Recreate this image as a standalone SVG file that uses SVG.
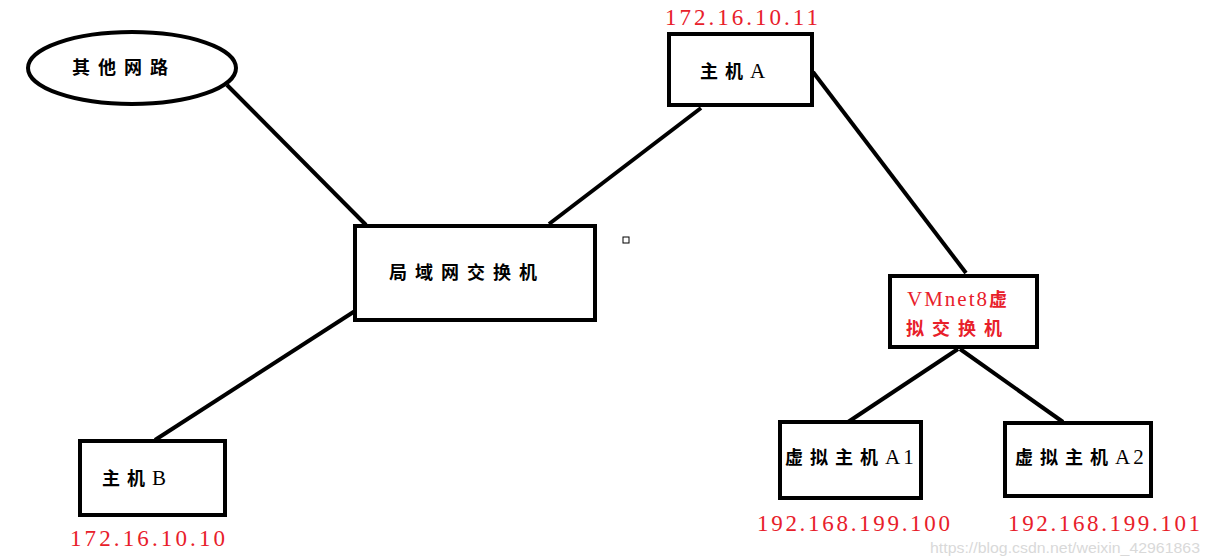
<svg xmlns="http://www.w3.org/2000/svg" width="1210" height="560" viewBox="0 0 1210 560">
<style>
.box{fill:#fff;stroke:#000;stroke-width:4}
.lbl{font-family:"Liberation Serif","Noto Sans CJK SC",serif;fill:#000}
.cjk{font-family:"Noto Sans CJK SC",sans-serif;font-size:18px;font-weight:bold;letter-spacing:8px}
.lat{font-family:"Liberation Serif",serif;font-size:21px;font-weight:normal;letter-spacing:1px}
.red{fill:#e8202a}
.ip{font-family:"Liberation Serif","Noto Sans CJK SC",serif;font-size:23px;fill:#e8202a}
.conn line{stroke:#000;stroke-width:4}
.wm{font-family:"Liberation Sans",sans-serif;font-size:15px;fill:#d9d9d9}
</style>
<rect width="1210" height="560" fill="#fff"/>
<g class="conn">
<line x1="227" y1="85" x2="366" y2="225"/>
<line x1="549" y1="224" x2="701" y2="108"/>
<line x1="813" y1="72" x2="966" y2="273"/>
<line x1="355" y1="311" x2="155" y2="440"/>
<line x1="958" y1="349" x2="845" y2="424"/>
<line x1="960" y1="349" x2="1063" y2="422"/>
</g>
<g id="other-net">
<ellipse class="box" cx="132" cy="68" rx="104" ry="36"/>
<text class="lbl" x="72" y="74"><tspan class="cjk">其他网路</tspan></text>
</g>
<g id="host-a">
<rect class="box" x="669" y="34" width="143" height="71"/>
<text class="lbl" x="700" y="78"><tspan class="cjk" style="letter-spacing:7px">主机</tspan><tspan class="lat">A</tspan></text>
<text class="ip" x="665" y="25" textLength="153" lengthAdjust="spacing">172.16.10.11</text>
</g>
<g id="lan-switch">
<rect class="box" x="355" y="226" width="240" height="94"/>
<text class="lbl" x="389" y="279"><tspan class="cjk">局域网交换机</tspan></text>
</g>
<g id="marker-square">
<rect x="623" y="237" width="6" height="6" fill="#fff" stroke="#000" stroke-width="1"/>
</g>
<g id="vmnet8">
<rect class="box" x="890" y="276" width="147" height="71"/>
<text class="lbl red" x="907" y="306"><tspan class="lat" style="letter-spacing:2px">VMnet8</tspan><tspan class="cjk">虚</tspan></text>
<text class="lbl red" x="906" y="335"><tspan class="cjk">拟交换机</tspan></text>
</g>
<g id="vm-a1">
<rect class="box" x="780" y="422" width="141" height="76"/>
<text class="lbl" x="785" y="464"><tspan class="cjk" style="letter-spacing:7px">虚拟主机</tspan><tspan class="lat" style="letter-spacing:3px">A1</tspan></text>
<text class="ip" x="757" y="531" textLength="193" lengthAdjust="spacing">192.168.199.100</text>
</g>
<g id="vm-a2">
<rect class="box" x="1005" y="423" width="146" height="73"/>
<text class="lbl" x="1015" y="464"><tspan class="cjk" style="letter-spacing:7px">虚拟主机</tspan><tspan class="lat" style="letter-spacing:3px">A2</tspan></text>
<text class="ip" x="1008" y="531" textLength="192" lengthAdjust="spacing">192.168.199.101</text>
</g>
<g id="host-b">
<rect class="box" x="80" y="441" width="145" height="74"/>
<text class="lbl" x="102" y="485"><tspan class="cjk" style="letter-spacing:7px">主机</tspan><tspan class="lat">B</tspan></text>
<text class="ip" x="70" y="546" textLength="155" lengthAdjust="spacing">172.16.10.10</text>
</g>
<text class="wm" x="930" y="553" textLength="270" lengthAdjust="spacingAndGlyphs">https://blog.csdn.net/weixin_42961863</text>
</svg>
